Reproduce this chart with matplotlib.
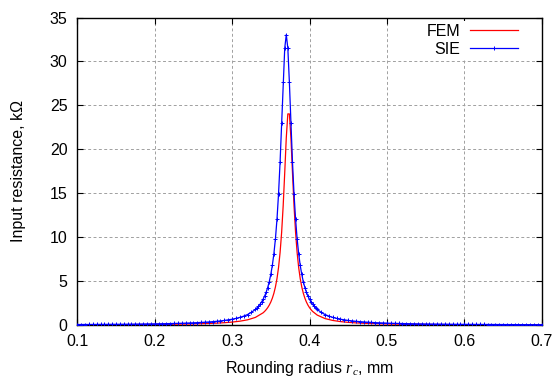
import matplotlib
matplotlib.use("Agg")
import matplotlib.pyplot as plt

# ---------------- data ----------------
sie_x = [
    0.100, 0.105, 0.110, 0.115, 0.120, 0.125, 0.130, 0.135, 0.140, 0.145,
    0.150, 0.155, 0.160, 0.165, 0.170, 0.175, 0.180, 0.185, 0.190, 0.195,
    0.200, 0.205, 0.210, 0.215, 0.220, 0.225, 0.230, 0.235, 0.240, 0.245,
    0.250, 0.255, 0.260, 0.265, 0.270, 0.275, 0.280, 0.285, 0.290, 0.295,
    0.300, 0.305, 0.310, 0.315, 0.320, 0.325, 0.330,
    0.332, 0.334, 0.336, 0.338, 0.340, 0.342, 0.344, 0.346, 0.348, 0.350,
    0.352, 0.354, 0.356, 0.358, 0.360, 0.362, 0.364, 0.366, 0.368, 0.370,
    0.372, 0.374, 0.376, 0.378, 0.380, 0.382, 0.384, 0.386, 0.388, 0.390,
    0.392, 0.394, 0.396, 0.398, 0.400, 0.402, 0.404, 0.406, 0.408,
    0.410, 0.415, 0.420, 0.425, 0.430, 0.435, 0.440, 0.445, 0.450, 0.455,
    0.460, 0.465, 0.470, 0.475, 0.480, 0.485, 0.490, 0.495, 0.500, 0.505,
    0.510, 0.515, 0.520, 0.525, 0.530, 0.535, 0.540, 0.545, 0.550, 0.555,
    0.560, 0.565, 0.570, 0.575, 0.580, 0.585, 0.590, 0.595, 0.600, 0.605,
    0.610, 0.615, 0.620, 0.625, 0.630, 0.635, 0.640, 0.645, 0.650, 0.655,
    0.660, 0.665, 0.670, 0.675, 0.680, 0.685, 0.690, 0.695, 0.700,
]
sie_y = [
    0.052, 0.054, 0.056, 0.058, 0.061, 0.063, 0.066, 0.069, 0.071, 0.075,
    0.078, 0.081, 0.085, 0.089, 0.094, 0.098, 0.103, 0.109, 0.115, 0.121,
    0.128, 0.135, 0.144, 0.153, 0.162, 0.173, 0.185, 0.198, 0.213, 0.229,
    0.247, 0.267, 0.290, 0.316, 0.346, 0.380, 0.419, 0.465, 0.518, 0.582,
    0.658, 0.751, 0.866, 1.010, 1.195, 1.438, 1.769,
    1.935, 2.127, 2.350, 2.611, 2.919, 3.287, 3.730, 4.268, 4.930, 5.755,
    6.795, 8.122, 9.831, 12.051, 14.923, 18.570, 22.956, 27.639, 31.506, 33.050,
    31.506, 27.639, 22.956, 18.570, 14.923, 12.051, 9.831, 8.122, 6.795, 5.755,
    4.930, 4.268, 3.730, 3.287, 2.919, 2.611, 2.350, 2.127, 1.935,
    1.769, 1.438, 1.195, 1.010, 0.866, 0.751, 0.658, 0.582, 0.518, 0.465,
    0.419, 0.380, 0.346, 0.316, 0.290, 0.267, 0.247, 0.229, 0.213, 0.198,
    0.185, 0.173, 0.162, 0.153, 0.144, 0.135, 0.128, 0.121, 0.115, 0.109,
    0.103, 0.098, 0.094, 0.089, 0.085, 0.081, 0.078, 0.075, 0.071, 0.069,
    0.066, 0.063, 0.061, 0.058, 0.056, 0.054, 0.052, 0.050, 0.049, 0.047,
    0.045, 0.044, 0.042, 0.041, 0.040, 0.039, 0.037, 0.036, 0.035,
]

fem_x = [
    0.10, 0.11, 0.12, 0.13, 0.14, 0.15, 0.16, 0.17, 0.18, 0.19,
    0.20, 0.21, 0.22, 0.23, 0.24, 0.25, 0.26, 0.27, 0.28, 0.29,
    0.30, 0.31, 0.32, 0.33, 0.34,
    0.342, 0.344, 0.346, 0.348, 0.350, 0.352, 0.354, 0.356, 0.358, 0.360,
    0.362, 0.364, 0.366, 0.368, 0.370, 0.372, 0.374, 0.376, 0.378, 0.380,
    0.382, 0.384, 0.386, 0.388, 0.390, 0.392, 0.394, 0.396, 0.398, 0.400,
    0.402, 0.404,
    0.41, 0.42, 0.43, 0.44, 0.45, 0.46, 0.47, 0.48, 0.49, 0.50,
    0.51, 0.52, 0.53, 0.54, 0.55, 0.56, 0.57, 0.58, 0.59, 0.60,
    0.61, 0.62, 0.63, 0.64, 0.65, 0.66, 0.67, 0.68, 0.69, 0.70,
]
fem_y = [
    0.027, 0.029, 0.032, 0.034, 0.037, 0.040, 0.044, 0.049, 0.054, 0.059,
    0.066, 0.074, 0.084, 0.095, 0.109, 0.127, 0.149, 0.176, 0.213, 0.263,
    0.332, 0.433, 0.591, 0.861, 1.384,
    1.547, 1.742, 1.976, 2.262, 2.615, 3.056, 3.617, 4.340, 5.288, 6.549,
    8.249, 10.544, 13.583, 17.350, 21.301, 24.027, 24.027, 21.301, 17.350, 13.583,
    10.544, 8.249, 6.549, 5.288, 4.340, 3.617, 3.056, 2.615, 2.262, 1.976,
    1.742, 1.547,
    1.128, 0.734, 0.519, 0.388, 0.301, 0.241, 0.197, 0.164, 0.139, 0.119,
    0.103, 0.090, 0.080, 0.071, 0.063, 0.057, 0.051, 0.047, 0.043, 0.039,
    0.036, 0.033, 0.031, 0.028, 0.026, 0.025, 0.023, 0.022, 0.020, 0.019,
]

x_ticks = [0.1, 0.2, 0.3, 0.4, 0.5, 0.6, 0.7]
x_tick_labels = ["0.1", "0.2", "0.3", "0.4", "0.5", "0.6", "0.7"]
y_ticks = [0, 5, 10, 15, 20, 25, 30, 35]
y_tick_labels = ["0", "5", "10", "15", "20", "25", "30", "35"]

series_labels = ["FEM", "SIE"]
x_label = "Rounding radius $r_c$, mm"
y_label = "Input resistance, kΩ"

# ---------------- style ----------------
plt.rcParams["font.family"] = ["Liberation Sans", "DejaVu Sans"]
plt.rcParams["mathtext.fontset"] = "custom"
plt.rcParams["mathtext.it"] = "Liberation Serif:italic"
plt.rcParams["mathtext.rm"] = "Liberation Serif"
FS = 11.5

fig = plt.figure(figsize=(5.57, 3.83), dpi=100)
ax = fig.add_axes([77.3 / 557, 1 - 325 / 383, (541.7 - 77.3) / 557, (325 - 17.5) / 383])

ax.plot(fem_x, fem_y, color="#ff0000", lw=0.9, label=series_labels[0], zorder=3)
ax.plot(sie_x, sie_y, color="#0000ff", lw=0.9, marker="+", markersize=2.5,
        markeredgewidth=0.7, label=series_labels[1], zorder=4)

ax.set_xlim(0.1, 0.7)
ax.set_ylim(0, 35)
ax.set_xticks(x_ticks)
ax.set_xticklabels(x_tick_labels)
ax.set_yticks(y_ticks)
ax.set_yticklabels(y_tick_labels)

ax.tick_params(direction="in", length=4, width=0.8, top=True, right=True,
               labelsize=FS, colors="black")
ax.tick_params(axis="x", pad=6.5)
ax.tick_params(axis="y", pad=7)
ax.grid(True, color="#a0a0a0", linestyle=(0, (3, 2.5)), linewidth=0.7)
ax.set_axisbelow(True)
for s in ax.spines.values():
    s.set_linewidth(1.0)
    s.set_color("black")

ax.set_xlabel(x_label, fontsize=FS)
ax.set_ylabel(y_label, fontsize=FS)
ax.xaxis.set_label_coords(0.5, (325 - 368) / 307.5)
ax.xaxis.label.set_va("center")
ax.yaxis.set_label_coords((18.3 - 77.3) / 464.4, 0.5)
ax.yaxis.label.set_va("center")

leg = ax.legend(loc="upper right", bbox_to_anchor=(0.955, 0.99), markerfirst=False,
                fontsize=FS, frameon=True, fancybox=False, framealpha=1,
                handlelength=2.95, handletextpad=0.65, labelspacing=0.18,
                borderpad=0.2, borderaxespad=0.0)
leg.get_frame().set_edgecolor("none")
leg.get_frame().set_facecolor("white")
for t in leg.get_texts():
    t.set_ha("right")

fig.savefig("out.png", dpi=100)
